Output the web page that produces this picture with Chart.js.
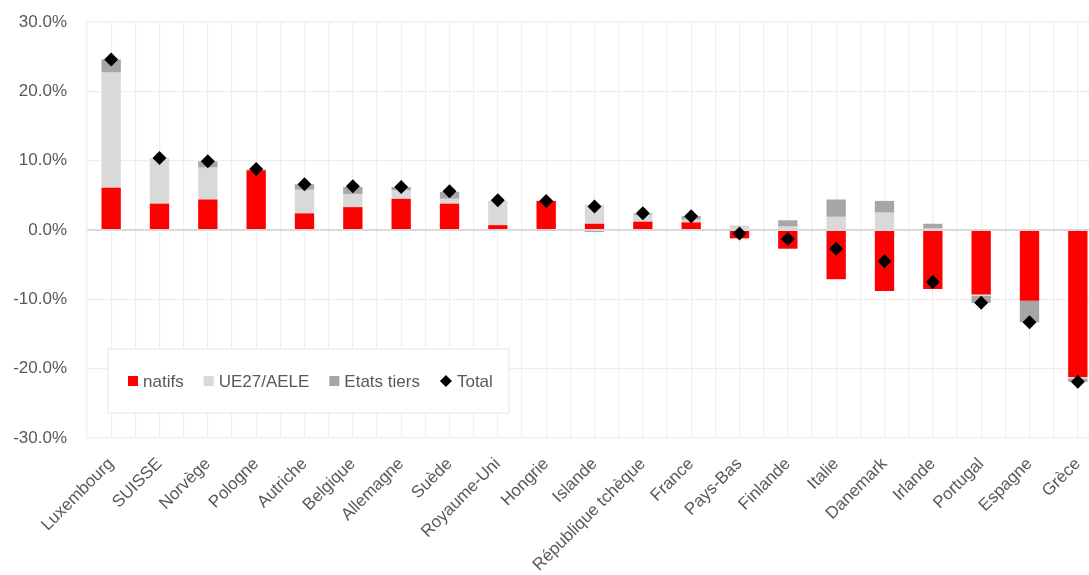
<!DOCTYPE html>
<html lang="fr">
<head>
<meta charset="utf-8">
<title>Contributions à l'évolution de l'emploi</title>
<script src="https://cdn.jsdelivr.net/npm/chart.js@4/dist/chart.umd.min.js"></script>
<style>
  html, body { margin: 0; padding: 0; background: #ffffff; overflow: hidden; }
  #wrap { position: relative; width: 1109px; height: 575px; }
</style>
</head>
<body>
<div id="wrap"><canvas id="chart"></canvas></div>
<script>
// Pays, classés par variation totale décroissante
const categories = ['Luxembourg', 'SUISSE', 'Norvège', 'Pologne', 'Autriche', 'Belgique', 'Allemagne',
  'Suède', 'Royaume-Uni', 'Hongrie', 'Islande', 'République tchèque', 'France', 'Pays-Bas',
  'Finlande', 'Italie', 'Danemark', 'Irlande', 'Portugal', 'Espagne', 'Grèce'];

// Contributions (en points de %)
const natifs = [6.1, 3.8, 4.4, 8.6, 2.4, 3.3, 4.5, 3.8, 0.7, 4.2, 0.9, 1.2, 1.1, -1.2,
  -2.7, -7.1, -8.8, -8.5, -9.3, -10.2, -21.2];
const ue27Aele = [16.6, 6.6, 4.6, 0.2, 3.4, 1.9, 1.2, 0.7, 3.5, 0.0, 2.7, 1.0, 0.4, 0.5,
  0.5, 1.9, 2.5, 0.2, -0.2, 0.0, -0.2];
const etatsTiers = [1.9, 0.0, 0.9, 0.0, 0.8, 1.0, 0.5, 1.0, 0.0, -0.1, -0.3, 0.2, 0.5, 0.1,
  0.9, 2.5, 1.7, 0.7, -1.0, -3.1, -0.5];
const total = [24.6, 10.4, 9.9, 8.8, 6.6, 6.3, 6.2, 5.6, 4.3, 4.2, 3.4, 2.4, 2.0, -0.5,
  -1.3, -2.7, -4.5, -7.5, -10.5, -13.3, -21.9];

// Graduations de l'axe vertical
const yTicks = [-30, -20, -10, 0, 10, 20, 30];

const FONT = '"Liberation Sans", Arial, sans-serif';
const TEXT = '#595959';

// Légende encadrée, dessinée à l'intérieur de la zone du graphique
const boxLegend = {
  id: 'boxLegend',
  afterDraw(chart, args, opts) {
    const ctx = chart.ctx;
    const area = chart.chartArea;
    const x0 = area.left + opts.offsetX, y0 = area.bottom - opts.offsetY - opts.height;
    ctx.save();
    ctx.fillStyle = '#ffffff';
    ctx.fillRect(x0, y0, opts.width, opts.height);
    ctx.strokeStyle = '#eeeeee';
    ctx.lineWidth = 1.5;
    ctx.strokeRect(x0, y0, opts.width, opts.height);
    ctx.font = '17px ' + FONT;
    ctx.textBaseline = 'middle';
    ctx.fillStyle = TEXT;
    const cy = y0 + opts.height / 2;
    let x = x0 + opts.padLeft;
    chart.data.datasets.forEach((ds) => {
      if (ds.type === 'line') {
        ctx.fillStyle = '#000000';
        ctx.beginPath();
        ctx.moveTo(x + 6, cy - 6);
        ctx.lineTo(x + 12, cy);
        ctx.lineTo(x + 6, cy + 6);
        ctx.lineTo(x, cy);
        ctx.closePath();
        ctx.fill();
        x += 17;
      } else {
        ctx.fillStyle = ds.backgroundColor;
        ctx.fillRect(x, cy - 5, 10, 10);
        x += 15;
      }
      ctx.fillStyle = TEXT;
      ctx.fillText(ds.label, x, cy + 1);
      x += ctx.measureText(ds.label).width + 20;
    });
    ctx.restore();
  }
};

new Chart(document.getElementById('chart'), {
  data: {
    labels: categories,
    datasets: [
      { type: 'bar', label: 'natifs', data: natifs, backgroundColor: '#ff0000', stack: 'contrib', order: 1 },
      { type: 'bar', label: 'UE27/AELE', data: ue27Aele, backgroundColor: '#d9d9d9', stack: 'contrib', order: 1 },
      { type: 'bar', label: 'Etats tiers', data: etatsTiers, backgroundColor: '#a6a6a6', stack: 'contrib', order: 1 },
      { type: 'line', label: 'Total', data: total, stack: 'total', order: 0,
        showLine: false, pointStyle: 'rectRot', pointRadius: 7, pointHoverRadius: 7,
        backgroundColor: '#000000', borderColor: '#000000', pointBorderWidth: 0 }
    ]
  },
  options: {
    responsive: true,
    maintainAspectRatio: false,
    animation: false,
    devicePixelRatio: 1,
    layout: { padding: { top: 22, left: 0, right: 0, bottom: 0 } },
    datasets: { bar: { categoryPercentage: 1, barPercentage: 0.4 } },
    plugins: {
      legend: { display: false },
      tooltip: { enabled: false },
      boxLegend: { offsetX: 21, offsetY: 25, width: 401, height: 64, padLeft: 20 }
    },
    scales: {
      x: {
        type: 'category',
        offset: true,
        stacked: true,
        grid: { offset: false, color: '#eeeeee', lineWidth: 1.2, drawTicks: false },
        border: { display: false },
        ticks: { color: TEXT, font: { family: FONT, size: 17 }, minRotation: 45, maxRotation: 45, padding: 16, autoSkip: false },
        afterFit(scale) { scale.height = 137; }
      },
      x2: {
        type: 'category',
        position: 'bottom',
        offset: true,
        grid: { offset: true, color: '#eeeeee', lineWidth: 1.2, drawTicks: false },
        border: { display: false },
        ticks: { display: false },
        afterFit(scale) { scale.height = 0; }
      },
      y: {
        stacked: true,
        min: yTicks[0],
        max: yTicks[yTicks.length - 1],
        afterBuildTicks(scale) { scale.ticks = yTicks.map(v => ({ value: v })); },
        grid: {
          color: (c) => c.tick && c.tick.value === 0 ? '#d9d9d9' : '#eeeeee',
          lineWidth: (c) => c.tick && c.tick.value === 0 ? 2 : 1.2,
          drawTicks: true,
          tickLength: 20,
          tickColor: 'rgba(0,0,0,0)'
        },
        border: { color: '#eeeeee', width: 1.2 },
        ticks: {
          color: TEXT,
          font: { family: FONT, size: 17 },
          padding: 0,
          callback: (v) => v.toFixed(1) + '%'
        },
        afterFit(scale) { scale.width = 87; }
      }
    }
  },
  plugins: [boxLegend]
});
</script>
</body>
</html>
